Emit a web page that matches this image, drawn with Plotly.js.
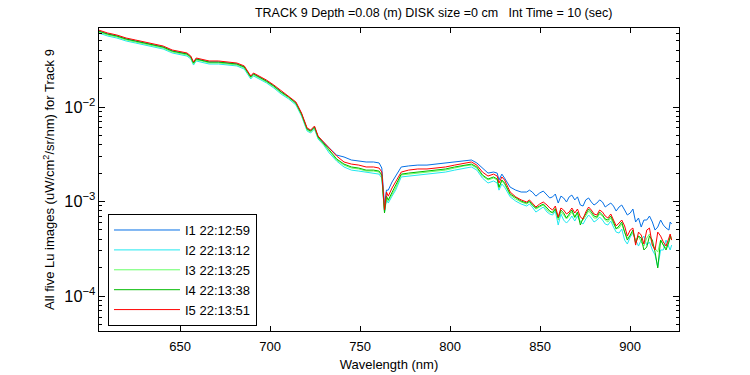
<!DOCTYPE html>
<html>
<head>
<meta charset="utf-8">
<script src="https://cdn.plot.ly/plotly-3.0.1.min.js"></script>
<style>html,body{margin:0;padding:0;background:#fff;}#chart{width:750px;height:375px;}</style>
</head>
<body>
<div id="chart"></div>
<script>
const wavelength = [604.7,609.8,614.9,620.1,625.2,630.3,635.4,640.6,645.7,650.8,653.9,656.0,657.5,659.0,662.1,666.2,671.3,676.5,681.6,685.7,687.7,689.3,690.8,693.9,698.0,702.1,706.2,710.3,714.4,717.5,720.6,722.6,724.7,726.7,729.8,732.9,737.0,741.1,745.2,749.3,753.4,757.5,760.6,762.1,763.6,764.7,765.7,767.8,769.8,772.9,777.0,782.1,787.2,792.4,797.5,802.6,807.8,811.9,814.9,818.0,821.1,824.2,826.2,827.2,828.8,830.3,833.4,836.5,839.5,
842.6,844.1,845.7,847.7,849.8,851.8,853.9,855.4,857.0,858.5,860.1,861.6,863.1,864.7,866.2,867.7,869.3,870.8,872.4,873.9,875.4,877.0,878.5,880.0,881.6,883.1,884.7,886.2,887.7,889.3,890.8,892.3,893.9,895.4,897.0,898.5,900.1,901.6,903.1,904.7,906.2,907.7,909.3,910.8,912.4,913.9,915.4,917.0,918.5,920.0,921.6,922.3,923.1];

const seriesNames = ['I1 22:12:59','I2 22:13:12','I3 22:13:25','I4 22:13:38','I5 22:13:51'];
const seriesColors = ['#0570e6','#20e8f0','#66ff66','#00bb00','#ff0000'];

const lu_I1 = [0.0637,0.0592,0.0564,0.0524,0.0499,0.0476,0.0453,0.0431,0.0391,0.0373,0.0364,0.0338,0.0292,0.0322,0.0314,0.0299,0.0299,0.0292,0.0285,0.0265,0.0229,0.0208,0.0224,0.0208,0.0188,0.0167,0.0144,0.0128,0.0110,0.00843,0.00585,0.00557,0.00614,0.00481,0.00416,0.00368,0.00310,0.00296,0.00275,0.00268,0.00262,0.00262,0.00256,0.00226,0.000918,0.00132,0.00132,0.00161,0.00186,0.00232,0.00238,0.00243,0.00243,0.00249,0.00256,0.00262,0.00268,0.00275,0.00256,0.00226,0.00200,0.00205,0.00200,0.00169,0.00195,0.00177,0.00142,0.00132,0.00126,
0.00126,0.00132,0.00126,0.00114,0.00123,0.00129,0.00117,0.00109,0.00112,0.00120,0.000964,0.00114,0.00109,0.000988,0.00112,0.00117,0.00104,0.00112,0.000918,0.000896,0.00104,0.00109,0.000988,0.000918,0.000964,0.00104,0.000988,0.000875,0.000918,0.000964,0.000896,0.000793,0.000875,0.000918,0.000813,0.000720,0.000756,0.000833,0.000607,0.000669,0.000537,0.000637,0.000637,0.000702,0.000607,0.000499,0.000537,0.000637,0.000564,0.000524,0.000499,0.000607,0.000578];

const lu_I2 = [0.0607,0.0564,0.0537,0.0499,0.0476,0.0453,0.0431,0.0411,0.0373,0.0355,0.0346,0.0322,0.0278,0.0307,0.0299,0.0285,0.0285,0.0278,0.0272,0.0252,0.0218,0.0198,0.0213,0.0198,0.0180,0.0159,0.0137,0.0122,0.0105,0.00803,0.00557,0.00531,0.00585,0.00458,0.00396,0.00326,0.00268,0.00232,0.00215,0.00210,0.00205,0.00200,0.00195,0.00177,0.000774,0.00104,0.000964,0.00114,0.00132,0.00182,0.00186,0.00191,0.00195,0.00200,0.00205,0.00215,0.00226,0.00232,0.00215,0.00177,0.00157,0.00165,0.00157,0.00132,0.00153,0.00142,0.00112,0.00101,0.000941,
0.000896,0.000941,0.000875,0.000774,0.000833,0.000875,0.000774,0.000738,0.000720,0.000793,0.000564,0.000738,0.000637,0.000592,0.000637,0.000702,0.000622,0.000702,0.000607,0.000578,0.000653,0.000720,0.000669,0.000607,0.000637,0.000685,0.000637,0.000578,0.000564,0.000622,0.000537,0.000475,0.000464,0.000511,0.000391,0.000355,0.000421,0.000464,0.000391,0.000338,0.000391,0.000431,0.000346,0.000373,0.000307,0.000272,0.000203,0.000307,0.000307,0.000391,0.000330,0.000307,0.000346];

const lu_I3 = [0.0622,0.0578,0.0551,0.0512,0.0487,0.0464,0.0442,0.0421,0.0382,0.0364,0.0355,0.0330,0.0285,0.0314,0.0307,0.0292,0.0292,0.0285,0.0278,0.0259,0.0224,0.0203,0.0218,0.0203,0.0184,0.0163,0.0141,0.0125,0.0108,0.00823,0.00571,0.00544,0.00600,0.00470,0.00406,0.00342,0.00275,0.00243,0.00226,0.00221,0.00210,0.00210,0.00205,0.00186,0.000793,0.00109,0.00101,0.00120,0.00139,0.00191,0.00195,0.00200,0.00205,0.00210,0.00215,0.00226,0.00238,0.00243,0.00226,0.00186,0.00169,0.00177,0.00169,0.00139,0.00165,0.00153,0.00117,0.00106,0.000988,
0.000941,0.000988,0.000918,0.000833,0.000875,0.000918,0.000813,0.000774,0.000774,0.000854,0.000637,0.000774,0.000720,0.000653,0.000702,0.000774,0.000669,0.000756,0.000607,0.000637,0.000702,0.000793,0.000738,0.000669,0.000669,0.000738,0.000702,0.000637,0.000607,0.000669,0.000578,0.000524,0.000524,0.000578,0.000475,0.000411,0.000431,0.000475,0.000391,0.000431,0.000373,0.000338,0.000411,0.000453,0.000346,0.000322,0.000292,0.000391,0.000346,0.000322,0.000391,0.000411,0.000421];

const lu_I4 = [0.0637,0.0592,0.0564,0.0524,0.0499,0.0476,0.0453,0.0431,0.0391,0.0373,0.0364,0.0338,0.0292,0.0322,0.0314,0.0299,0.0299,0.0292,0.0285,0.0265,0.0229,0.0208,0.0224,0.0208,0.0188,0.0167,0.0144,0.0128,0.0110,0.00843,0.00585,0.00557,0.00614,0.00481,0.00416,0.00351,0.00282,0.00249,0.00232,0.00226,0.00215,0.00215,0.00210,0.00191,0.000756,0.00114,0.00104,0.00126,0.00146,0.00195,0.00200,0.00205,0.00210,0.00215,0.00221,0.00232,0.00243,0.00249,0.00232,0.00191,0.00173,0.00182,0.00173,0.00142,0.00169,0.00157,0.00120,0.00109,0.00101,
0.000964,0.00101,0.000918,0.000854,0.000896,0.000941,0.000854,0.000793,0.000756,0.000833,0.000669,0.000813,0.000756,0.000669,0.000738,0.000813,0.000685,0.000774,0.000564,0.000669,0.000738,0.000833,0.000774,0.000702,0.000685,0.000774,0.000720,0.000653,0.000637,0.000702,0.000607,0.000511,0.000551,0.000607,0.000475,0.000391,0.000442,0.000499,0.000364,0.000431,0.000411,0.000307,0.000330,0.000431,0.000391,0.000292,0.000198,0.000391,0.000346,0.000307,0.000373,0.000431,0.000391];

const lu_I5 = [0.0653,0.0607,0.0578,0.0537,0.0512,0.0487,0.0464,0.0442,0.0401,0.0382,0.0373,0.0346,0.0299,0.0330,0.0322,0.0307,0.0307,0.0299,0.0292,0.0272,0.0235,0.0213,0.0229,0.0213,0.0193,0.0171,0.0148,0.0131,0.0113,0.00864,0.00600,0.00571,0.00629,0.00493,0.00426,0.00368,0.00303,0.00262,0.00249,0.00243,0.00232,0.00232,0.00226,0.00205,0.000813,0.00126,0.00114,0.00139,0.00161,0.00205,0.00215,0.00221,0.00221,0.00226,0.00232,0.00243,0.00256,0.00262,0.00243,0.00205,0.00186,0.00195,0.00186,0.00157,0.00182,0.00169,0.00126,0.00112,0.00104,
0.000988,0.00104,0.000964,0.000875,0.000941,0.000988,0.000918,0.000854,0.000813,0.000896,0.000685,0.000854,0.000813,0.000738,0.000774,0.000854,0.000756,0.000833,0.000685,0.000653,0.000774,0.000875,0.000813,0.000738,0.000720,0.000813,0.000774,0.000702,0.000669,0.000738,0.000637,0.000551,0.000592,0.000637,0.000551,0.000431,0.000499,0.000524,0.000346,0.000475,0.000442,0.000355,0.000499,0.000524,0.000346,0.000307,0.000475,0.000431,0.000373,0.000338,0.000411,0.000453,0.000391];

const xTickVals = [650,700,750,800,850,900];
const titleText = 'TRACK 9 Depth =0.08 (m) DISK size =0 cm \u00a0 Int Time = 10 (sec)';
const xTitle = 'Wavelength (nm)';
const yTitle = 'All five Lu images (uW/cm<sup>2</sup>/sr/nm) for Track 9';

const allSeries = [lu_I1, lu_I2, lu_I3, lu_I4, lu_I5];
const traces = allSeries.map((ys, i) => ({
  x: wavelength, y: ys, type: 'scatter', mode: 'lines',
  name: seriesNames[i], line: {color: seriesColors[i], width: 1}
}));

const font = {family: 'Liberation Sans, Arial, sans-serif', size: 13, color: '#000'};
const titleFont = {family: 'Liberation Sans, Arial, sans-serif', size: 12.5, color: '#000'};
const layout = {
  width: 750, height: 375,
  margin: {l: 99, r: 71, t: 28, b: 44},
  paper_bgcolor: '#fff', plot_bgcolor: '#fff',
  font: font,
  showlegend: true,
  title: {text: titleText, font: titleFont, x: 0.577, xanchor: 'center', y: 0.966, yanchor: 'middle', xref: 'paper'},
  xaxis: {
    range: [605.0, 927.2], tickvals: xTickVals, ticks: 'inside', ticklen: 5, tickcolor: '#000',
    showline: true, linecolor: '#000', linewidth: 1, mirror: 'ticks', showgrid: false, zeroline: false,
    ticklabelstandoff: 3,
    title: {text: xTitle, font: font, standoff: 7}, tickfont: font
  },
  yaxis: {
    type: 'log', range: [-4.37, -1.164], dtick: 1, exponentformat: 'power', ticks: 'inside', ticklen: 6, tickcolor: '#000',
    showline: true, linecolor: '#000', linewidth: 1, mirror: 'ticks', showgrid: false, zeroline: false,
    minor: {ticks: 'inside', ticklen: 3, tickcolor: '#000', dtick: 'D1', showgrid: false},
    title: {text: yTitle, font: font, standoff: 6}, tickfont: font
  },
  legend: {
    x: 0.0155, y: 0.386, xanchor: 'left', yanchor: 'top',
    bgcolor: '#fff', bordercolor: '#000', borderwidth: 1,
    font: font, itemwidth: 66, tracegroupgap: 0
  }
};

Plotly.newPlot('chart', traces, layout, {displayModeBar: false, staticPlot: true});
</script>
</body>
</html>
